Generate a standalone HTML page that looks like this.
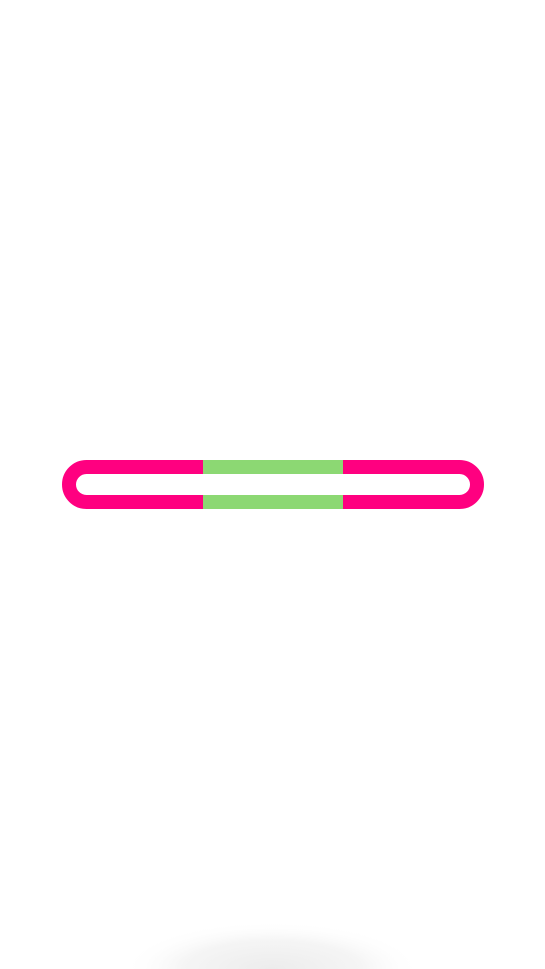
<!DOCTYPE html>
<html><head><meta charset="utf-8"><style>
html,body{margin:0;padding:0;background:#fff;width:545px;height:969px;overflow:hidden}
svg{display:block}
</style></head><body>
<svg width="545" height="969" viewBox="0 0 545 969">
  <defs>
    <radialGradient id="sh" cx="0.5" cy="1" r="0.5" gradientTransform="translate(0,0.5) scale(1,0.5) translate(0,1)">
      <stop offset="0" stop-color="#ececec"/>
      <stop offset="0.6" stop-color="#f5f5f5"/>
      <stop offset="1" stop-color="#ffffff" stop-opacity="0"/>
    </radialGradient>
    <radialGradient id="sh2" cx="272" cy="969" r="150" gradientUnits="userSpaceOnUse" gradientTransform="translate(0,969) scale(1,0.32) translate(0,-969)">
      <stop offset="0" stop-color="#ececec"/>
      <stop offset="0.6" stop-color="#f5f5f5"/>
      <stop offset="1" stop-color="#ffffff" stop-opacity="0"/>
    </radialGradient>
  </defs>
  <rect x="120" y="921" width="304" height="48" fill="url(#sh2)"/>
  <rect x="69" y="467" width="408" height="35" rx="17.5" ry="17.5" fill="none" stroke="#ff0080" stroke-width="14"/>
  <rect x="203" y="460" width="140" height="14" fill="#8cd873"/>
  <rect x="203" y="495" width="140" height="14" fill="#8cd873"/>
</svg>
</body></html>
